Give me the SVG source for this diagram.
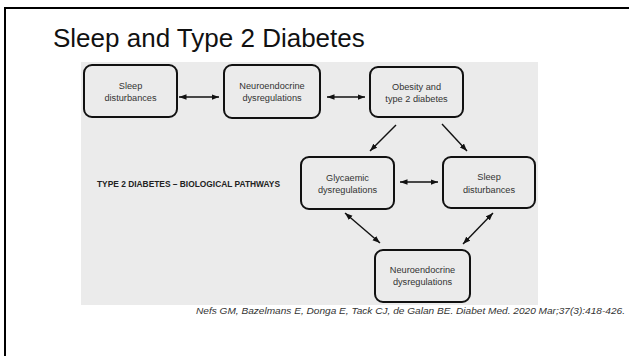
<svg xmlns="http://www.w3.org/2000/svg" width="629" height="356" viewBox="0 0 629 356">
<style>
.box{fill:#ebebeb;stroke:#111;stroke-width:2}
.lbl{font-family:"Liberation Sans",Arial,sans-serif;font-size:9.2px;fill:#333;text-anchor:middle}
.conn{stroke:#111;stroke-width:1.4;fill:none}
</style>
<defs>
<marker id="ah" viewBox="0 0 8 6" refX="8" refY="3" markerWidth="7.5" markerHeight="6" markerUnits="userSpaceOnUse" orient="auto-start-reverse">
<path d="M0,0 L8,3 L0,6 z" fill="#111"/>
</marker>
</defs>
<rect width="629" height="356" fill="#fff"/>
<path d="M5,356 V8 H629" fill="none" stroke="#000" stroke-width="2"/>
<text x="53" y="47" font-family="Liberation Sans,Arial,sans-serif" font-size="26" fill="#111">Sleep and Type 2 Diabetes</text>
<rect x="81" y="62" width="457" height="243" fill="#ebebeb"/>
<text x="97" y="187" font-family="Liberation Sans,Arial,sans-serif" font-size="8.3" font-weight="bold" fill="#222" textLength="183" lengthAdjust="spacingAndGlyphs">TYPE 2 DIABETES – BIOLOGICAL PATHWAYS</text>
<g id="connectors">
<line class="conn" x1="179" y1="97" x2="219" y2="97" marker-start="url(#ah)" marker-end="url(#ah)"/>
<line class="conn" x1="327" y1="97" x2="365" y2="97" marker-start="url(#ah)" marker-end="url(#ah)"/>
<line class="conn" x1="396" y1="125" x2="370" y2="151" marker-end="url(#ah)"/>
<line class="conn" x1="442" y1="124" x2="467" y2="151" marker-end="url(#ah)"/>
<line class="conn" x1="400" y1="182" x2="438" y2="182" marker-start="url(#ah)" marker-end="url(#ah)"/>
<line class="conn" x1="345" y1="213" x2="380" y2="243" marker-start="url(#ah)" marker-end="url(#ah)"/>
<line class="conn" x1="493" y1="213" x2="463" y2="244" marker-start="url(#ah)" marker-end="url(#ah)"/>
</g>
<g id="sleep1">
<rect class="box" x="84" y="65" width="93" height="52" rx="8"/>
<text class="lbl" x="130.5" y="89">Sleep</text>
<text class="lbl" x="130.5" y="101">disturbances</text>
</g>
<g id="neuro1">
<rect class="box" x="224" y="65" width="96" height="53" rx="8"/>
<text class="lbl" x="272" y="89">Neuroendocrine</text>
<text class="lbl" x="272" y="101">dysregulations</text>
</g>
<g id="obesity">
<rect class="box" x="370" y="67" width="93" height="50" rx="8"/>
<text class="lbl" x="416.5" y="90">Obesity and</text>
<text class="lbl" x="416.5" y="102">type 2 diabetes</text>
</g>
<g id="glycaemic">
<rect class="box" x="301" y="157" width="93" height="52" rx="8"/>
<text class="lbl" x="347.5" y="181">Glycaemic</text>
<text class="lbl" x="347.5" y="193">dysregulations</text>
</g>
<g id="sleep2">
<rect class="box" x="443" y="157" width="92" height="51" rx="8"/>
<text class="lbl" x="489" y="180">Sleep</text>
<text class="lbl" x="489" y="192.5">disturbances</text>
</g>
<g id="neuro2">
<rect class="box" x="375" y="250" width="95" height="52" rx="8"/>
<text class="lbl" x="422.5" y="273">Neuroendocrine</text>
<text class="lbl" x="422.5" y="285">dysregulations</text>
</g>
<text x="196" y="314" font-family="Liberation Sans,Arial,sans-serif" font-size="9.5" font-style="italic" fill="#333" textLength="429" lengthAdjust="spacingAndGlyphs">Nefs GM, Bazelmans E, Donga E, Tack CJ, de Galan BE. Diabet Med. 2020 Mar;37(3):418-426.</text>
</svg>
